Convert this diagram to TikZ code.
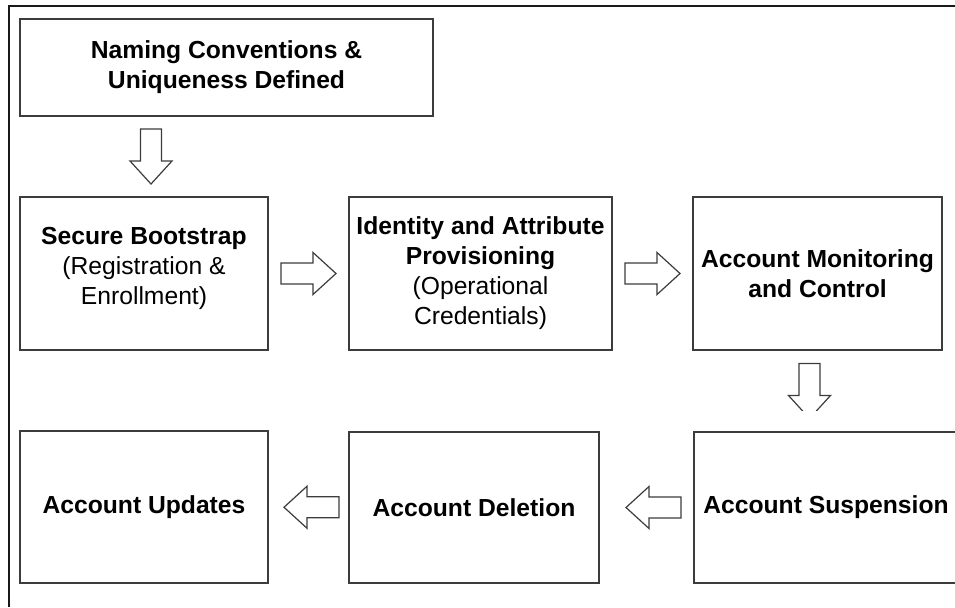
\documentclass[tikz,border=0pt]{standalone}
\usepackage{fontspec}
\setmainfont{Liberation Sans}
\usetikzlibrary{positioning, calc}
\definecolor{boxLine}{RGB}{60,60,60}
\definecolor{frameLine}{RGB}{25,25,25}

\tikzset{
    stage/.style={draw=boxLine, line width=1pt, align=center, inner sep=2pt,
        font=\fontsize{18.5}{22.5}\selectfont},
    arrowline/.style={draw=boxLine, line width=0.9pt, fill=white, line join=miter},
    pics/hollowarrow/.style={code={
        \draw[arrowline] (-27.5,-10.5) -- (4.5,-10.5) -- (4.5,-21) -- (27.5,0)
            -- (4.5,21) -- (4.5,10.5) -- (-27.5,10.5) -- cycle;
    }},
}

\begin{document}
\begin{tikzpicture}[x=0.75pt, y=-0.75pt]
% Canvas: x in [0, 955], y in [0, 607] (pixels, y down)
\useasboundingbox (0,0) rectangle (955,607);

% --- Outer frame (top and left edges only) ---
\draw[frameLine, line width=1.2pt] (955,6) -- (9,6) -- (9,607);

% --- Top stage ---
\node[stage, minimum width=309.75pt, minimum height=72.75pt] (naming) at (226.5,67.5)
    {\textbf{Naming Conventions \&}\\ \textbf{Uniqueness Defined}};

% --- Middle row ---
\node[stage, minimum width=186pt, minimum height=114.75pt] (boot) at (144,273.5)
    {\textbf{Secure Bootstrap}\\ (Registration \&\\ Enrollment)\\[-10.5pt] \mbox{}};
\node[stage, minimum width=197.25pt, minimum height=114.75pt] (ident) at (480.5,273.5)
    {\textbf{Identity and Attribute}\\ \textbf{Provisioning}\\ (Operational\\ Credentials)};
\node[stage, minimum width=186.75pt, minimum height=114.75pt] (monit) at (817.5,273.5)
    {\textbf{Account Monitoring}\\ \textbf{and Control}};

% --- Bottom row (suspension box runs past the right edge) ---
\node[stage, minimum width=198pt, minimum height=113.25pt] (susp) at (826,507.5)
    {\textbf{Account Suspension}};
\node[stage, minimum width=187.5pt, minimum height=113.25pt] (del) at (474,507.5)
    {\textbf{Account Deletion}};
\node[stage, minimum width=186pt, minimum height=114pt] (upd) at (144,507)
    {\textbf{Account Updates}};

% --- Hollow block arrows in the gaps ---
\pic[rotate=-90] at ($(boot.north |- naming.south)!.5!(boot.north)+(7,0)$) {hollowarrow};
\pic at ($(boot.east)!.5!(ident.west)$) {hollowarrow};
\pic at ($(ident.east)!.5!(monit.west)$) {hollowarrow};
\begin{scope}
    % tip of this one is cut off
    \clip (760,355) rectangle (860,410);
    \pic[rotate=-90] at ($(monit.south)!.5!(monit.south |- susp.north)+(-8,0)$) {hollowarrow};
\end{scope}
\pic[rotate=180] at ($(susp.west)!.5!(del.east)+(7,0)$) {hollowarrow};
\pic[rotate=180] at ($(del.west)!.5!(upd.east)+(3,0)$) {hollowarrow};

\end{tikzpicture}
\end{document}
